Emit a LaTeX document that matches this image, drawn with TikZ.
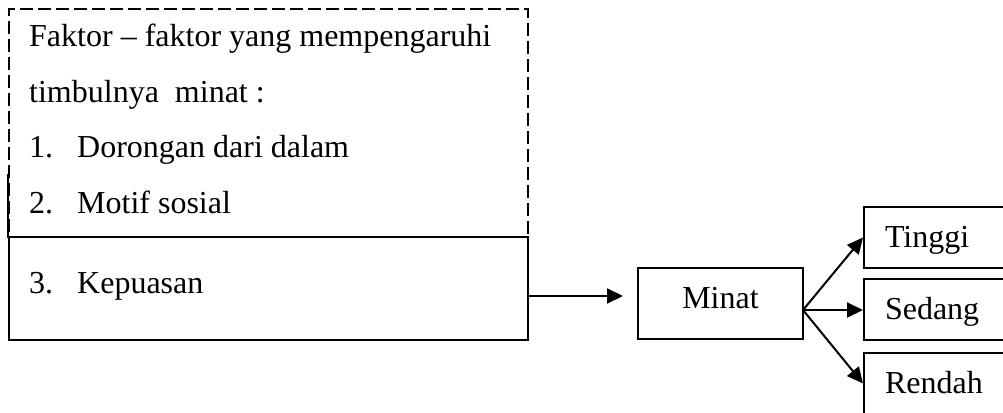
\documentclass[tikz,border=0pt]{standalone}
\usepackage{fontspec}
\setmainfont{Liberation Serif}
\usetikzlibrary{arrows.meta}
\begin{document}
\begin{tikzpicture}[x=1pt,y=-1pt,
  every node/.style={font=\fontsize{32}{38}\selectfont},
  line/.style={line width=2pt},
  txt/.style={inner sep=0pt,anchor=base west},
  dashbox/.style={line, draw, dash pattern=on 13pt off 5pt, anchor=north west, inner sep=0pt},
  solidbox/.style={line, draw, anchor=north west, inner sep=0pt},
  outbox/.style={line, draw, anchor=north west, minimum height=61pt, text width=150pt,
    inner xsep=21pt, inner ysep=0pt, text height=21pt, text depth=2pt, align=left},
  arr/.style={line, -{Triangle[length=16pt,width=15pt]}}
]
\clip (0,0) rectangle (1003,412);
\fill[white] (0,0) rectangle (1003,412);
% left boxes
\node[dashbox, minimum width=519pt, minimum height=228pt] (faktor) at (8,8) {};
\node[solidbox, minimum width=519pt, minimum height=103pt] (kep) at (8,236) {};
\draw[line] (faktor.south west) -- ++(0,-64);
% texts
\node[txt] (t1) at (29,47) {Faktor – faktor yang mempengaruhi};
\node[txt] (t2) at (29,102) {timbulnya\ \ minat :};
\node[txt] (n1) at (29,157) {1.};
\node[txt] (i1) at (77,157) {Dorongan dari dalam};
\node[txt] (n2) at (29,213) {2.};
\node[txt] (i2) at (77,213) {Motif sosial};
\node[txt] (n3) at (29,293) {3.};
\node[txt] (i3) at (77,293) {Kepuasan};
% Minat
\node[solidbox, anchor=center, minimum width=165pt, minimum height=71pt,
  text height=21pt, text depth=12pt] (minat) at (720.5,303.5) {Minat};
% outcome boxes
\node[outbox] (tinggi) at (863,206) {Tinggi};
\node[outbox] (sedang) at (863,278) {Sedang};
\node[outbox] (rendah) at (863,352) {Rendah};
% connectors
\coordinate (lo) at (527,296);
\coordinate (mo) at (803,310);
\draw[arr, shorten >=14pt] (lo) -- (lo -| minat.west);
\draw[arr] (mo) -- (tinggi.west);
\draw[arr] (mo) -- (mo -| sedang.west);
\draw[arr] (mo) -- (rendah.west);
\end{tikzpicture}
\end{document}
